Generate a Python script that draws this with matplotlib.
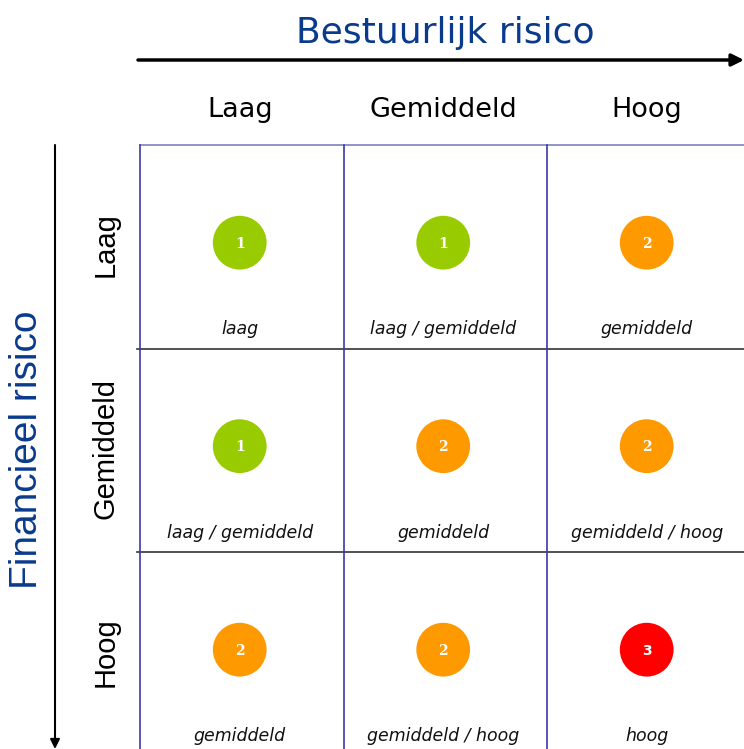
import matplotlib.pyplot as plt

# risk matrix data
col_labels = ['Laag', 'Gemiddeld', 'Hoog']
row_labels = ['Laag', 'Gemiddeld', 'Hoog']
scores = [[1, 1, 2],
          [1, 2, 2],
          [2, 2, 3]]
cell_text = [['laag', 'laag / gemiddeld', 'gemiddeld'],
             ['laag / gemiddeld', 'gemiddeld', 'gemiddeld / hoog'],
             ['gemiddeld', 'gemiddeld / hoog', 'hoog']]
score_colors = {1: '#99cc00', 2: '#ff9900', 3: '#ff0000'}

W, H = 744, 749
fig = plt.figure(figsize=(W / 100, H / 100), dpi=100)

# grid axes: each cell ~203 px, starting at (140, 145) from top-left
cw = 203.5
ax = fig.add_axes([140 / W, 1 - (145 + 3 * cw) / H, 3 * cw / W, 3 * cw / H])
ax.set_xlim(0, 3)
ax.set_ylim(3, 0)
ax.axis('off')

# grid lines
ax.plot([0, 3], [0, 0], color='#8080c0', lw=1.2, clip_on=False)
for r in (1, 2):
    ax.plot([-0.015, 3], [r, r], color='#333333', lw=1.2, clip_on=False)
for c in (0, 1, 2):
    ax.plot([c, c], [0, 3], color='#3a3aa8', lw=1.2, clip_on=False)

for r in range(3):
    for c in range(3):
        s = scores[r][c]
        ax.scatter(c + 0.49, r + 0.48, s=1500, color=score_colors[s],
                   edgecolors='none', zorder=3, clip_on=False)
        ax.text(c + 0.49, r + 0.485, str(s), color='white', fontsize=10,
                fontweight='bold', ha='center', va='center', zorder=4,
                family='DejaVu Serif' if s < 3 else 'DejaVu Sans')
        ax.text(c + 0.49, r + 0.905, cell_text[r][c], fontsize=12.5,
                style='italic', ha='center', va='center', color='#111111',
                family='DejaVu Sans')

for c, lab in enumerate(col_labels):
    ax.text(c + 0.49, -0.172, lab, fontsize=19.5, ha='center', va='center',
            family='DejaVu Sans', clip_on=False)
for r, lab in enumerate(row_labels):
    ax.text(-0.17, r + 0.49, lab, fontsize=21, ha='center', va='center',
            rotation=90, family='Liberation Sans', clip_on=False)

# axis titles and arrows
fig.text(445 / W, 1 - 33 / H, 'Bestuurlijk risico', fontsize=26,
         color='#0a3a8c', ha='center', va='center', family='DejaVu Sans')
fig.text(27 / W, 1 - 450 / H, 'Financieel risico', fontsize=28,
         color='#0a3a8c', ha='center', va='center', rotation=90,
         family='Liberation Sans')

arrow = dict(arrowstyle='-|>', color='black', lw=2.5, mutation_scale=18,
             shrinkA=0, shrinkB=0)
ax.annotate('', xy=(744, H - 60), xytext=(138, H - 60),
            xycoords='figure pixels', textcoords='figure pixels',
            arrowprops=arrow)
arrow2 = dict(arrowstyle='-|>', color='black', lw=1.5, mutation_scale=14,
              shrinkA=0, shrinkB=0)
ax.annotate('', xy=(55, 0), xytext=(55, H - 145),
            xycoords='figure pixels', textcoords='figure pixels',
            arrowprops=arrow2)

fig.savefig('out.png', dpi=100)
